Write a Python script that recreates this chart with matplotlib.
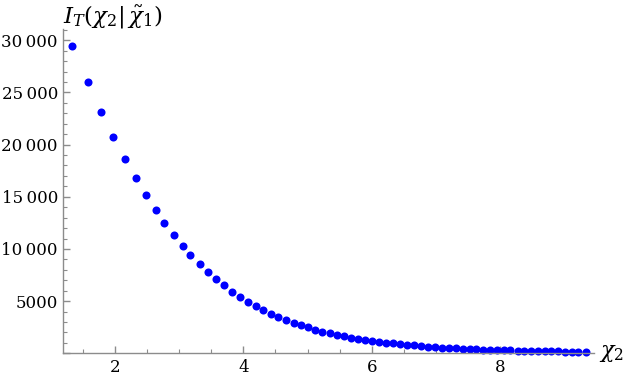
import matplotlib
matplotlib.use("Agg")
import matplotlib.pyplot as plt
from matplotlib.ticker import MultipleLocator, FuncFormatter

# data
chi2 = [1.326, 1.575, 1.787, 1.974, 2.159, 2.322, 2.478, 2.634, 2.771, 2.919,
        3.054, 3.176, 3.319, 3.453, 3.573, 3.693, 3.822, 3.947, 4.067, 4.192,
        4.310, 4.425, 4.544, 4.664, 4.784, 4.897, 5.002, 5.115, 5.229, 5.344,
        5.453, 5.562, 5.676, 5.790, 5.899, 6.008, 6.117, 6.226, 6.335, 6.444,
        6.553, 6.662, 6.766, 6.875, 6.984, 7.093, 7.198, 7.307, 7.416, 7.525,
        7.628, 7.737, 7.841, 7.946, 8.055, 8.157, 8.270, 8.375, 8.480, 8.584,
        8.693, 8.796, 8.905, 9.009, 9.114, 9.217, 9.329]
info = [29455, 25975, 23129, 20704, 18604, 16783, 15202, 13735, 12470, 11339,
        10304, 9374, 8559, 7793, 7122, 6518, 5904, 5425, 4946, 4505,
        4122, 3796, 3451, 3192, 2933, 2713, 2473, 2262, 2070, 1917,
        1783, 1658, 1495, 1399, 1275, 1179, 1112, 1016, 959, 891,
        824, 767, 700, 633, 604, 537, 508, 470, 440, 410,
        385, 360, 335, 315, 295, 275, 260, 245, 230, 215,
        205, 190, 180, 170, 160, 152, 145]

plt.rcParams['font.family'] = 'DejaVu Serif'
plt.rcParams['mathtext.fontset'] = 'dejavuserif'

fig = plt.figure(figsize=(6.23, 3.81), dpi=100)
ax = fig.add_axes([0.1019, 0.0727, 0.954 - 0.1019, 0.924 - 0.0727])

ax.plot(chi2, info, 'o', color='#0000ff', markersize=5.8, markeredgewidth=0, clip_on=False)

ax.set_xlim(1.198, 9.466)
ax.set_ylim(0, 31084)

for s in ['top', 'right']:
    ax.spines[s].set_visible(False)
for s in ['left', 'bottom']:
    ax.spines[s].set_color('#8c8c8c')
    ax.spines[s].set_linewidth(1.0)

ax.xaxis.set_major_locator(MultipleLocator(2))
ax.xaxis.set_minor_locator(MultipleLocator(0.5))
ax.yaxis.set_major_locator(MultipleLocator(5000))
ax.yaxis.set_minor_locator(MultipleLocator(1000))

def fmt(v, pos):
    v = int(round(v))
    if v == 0:
        return ''
    if v >= 10000:
        return '{:,}'.format(v).replace(',', '\u2009')
    return str(v)

ax.yaxis.set_major_formatter(FuncFormatter(fmt))

ax.tick_params(which='both', direction='in', color='#8c8c8c', labelsize=12, pad=4)
ax.tick_params(which='major', length=5, width=1)
ax.tick_params(which='minor', length=3, width=0.8)

# axis labels, Mathematica style at the ends of the axes
fig.text(63 / 623, 1 - 3 / 381, r'$I_T(\chi_2|\,\tilde{\chi}_1)$',
         fontsize=16.5, ha='left', va='top')
ax.text(1.008, 0.0, r'$\chi_2$', transform=ax.transAxes,
        fontsize=16, ha='left', va='center')

fig.savefig('out.png', dpi=100)
